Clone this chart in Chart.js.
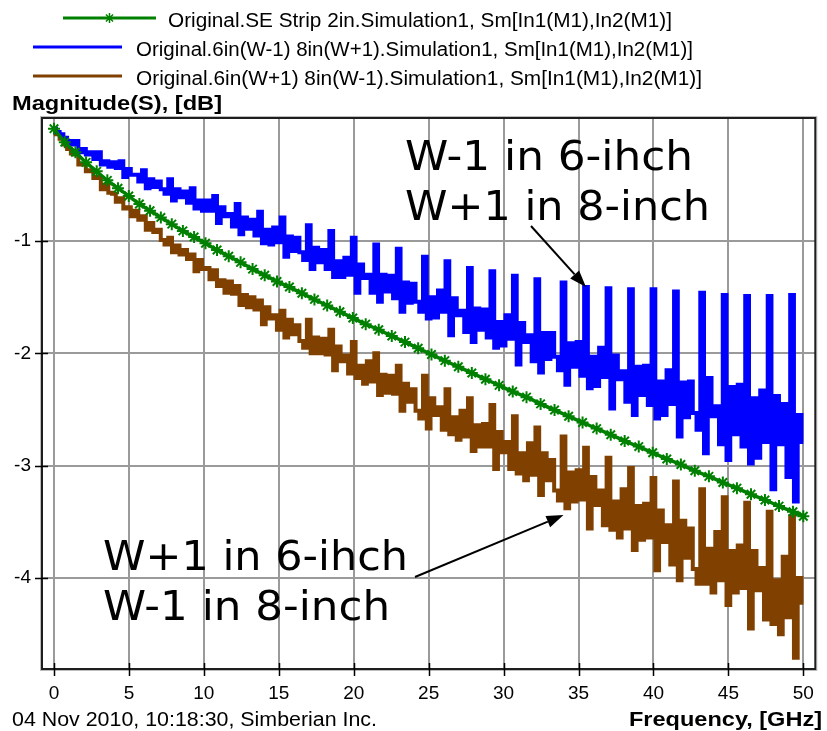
<!DOCTYPE html>
<html>
<head>
<meta charset="utf-8">
<title>Magnitude(S), [dB]</title>
<script src="https://cdn.jsdelivr.net/npm/chart.js@4.4.1/dist/chart.umd.min.js"></script>
<style>
  html, body { margin: 0; padding: 0; background: #ffffff; }
  canvas { display: block; }
</style>
</head>
<body>
<canvas id="chart" width="827" height="731"></canvas>
<script>
// Sweep step of the two coupled-line traces, GHz
const FREQ_STEP = 0.25;

const xTicks = [0, 5, 10, 15, 20, 25, 30, 35, 40, 45, 50];
const yTicks = [-1, -2, -3, -4];

const seriesLabels = [
    'Original.SE Strip 2in.Simulation1, Sm[In1(M1),In2(M1)]',
    'Original.6in(W-1) 8in(W+1).Simulation1, Sm[In1(M1),In2(M1)]',
    'Original.6in(W+1) 8in(W-1).Simulation1, Sm[In1(M1),In2(M1)]'
];
const seriesColors = ['#008000', '#0000ff', '#804000'];

// Single-ended strip, 2 inch (points where the plotter puts its markers)
const stripFreq = [0, 0.72, 1.43, 2.14, 2.85, 3.56, 4.27, 4.99, 5.70, 6.41, 7.13, 7.86, 8.60, 9.35, 10.11,
    10.88, 11.66, 12.45, 13.25, 14.06, 14.88, 15.71, 16.54, 17.38, 18.23, 19.08, 19.94, 20.80, 21.67, 22.54,
    23.42, 24.30, 25.19, 26.08, 26.98, 27.88, 28.79, 29.70, 30.61, 31.53, 32.47, 33.40, 34.34, 35.27, 36.21,
    37.15, 38.08, 39.02, 39.95, 40.89, 41.83, 42.76, 43.70, 44.63, 45.57, 46.51, 47.44, 48.38, 49.31, 50.00];
const stripMag = [0.00, -0.12, -0.21, -0.30, -0.38, -0.46, -0.53, -0.60, -0.67, -0.73, -0.79, -0.85, -0.91, -0.965, -1.02,
    -1.08, -1.135, -1.19, -1.25, -1.305, -1.36, -1.41, -1.465, -1.52, -1.575, -1.63, -1.685, -1.74, -1.79, -1.845,
    -1.90, -1.955, -2.01, -2.065, -2.12, -2.175, -2.23, -2.285, -2.34, -2.39, -2.45, -2.505, -2.56, -2.615, -2.67,
    -2.725, -2.78, -2.83, -2.885, -2.94, -2.99, -3.045, -3.095, -3.15, -3.20, -3.255, -3.305, -3.36, -3.41, -3.45];

// 6in(W-1) + 8in(W+1), one value every FREQ_STEP from 0 GHz
const mismatchAMag = [
    0.00, -0.03, -0.05, -0.08, -0.11, -0.14,
    -0.11, -0.21, -0.18, -0.23, -0.21, -0.27,
    -0.21, -0.32, -0.29, -0.34, -0.30, -0.35,
    -0.29, -0.43, -0.36, -0.41, -0.41, -0.47,
    -0.37, -0.53, -0.45, -0.52, -0.47, -0.54, -0.58,
    -0.45, -0.64, -0.54, -0.61, -0.56, -0.66,
    -0.53, -0.71, -0.64, -0.73, -0.64, -0.73,
    -0.60, -0.84, -0.70, -0.78, -0.76, -0.87,
    -0.67, -0.94, -0.79, -0.89, -0.81, -0.95,
    -0.74, -1.02, -0.90, -1.03, -0.88, -1.01,
    -0.79, -1.14, -0.96, -1.09, -0.97, -1.10, -1.17,
    -0.86, -1.25, -1.06, -1.19, -1.08, -1.25,
    -0.91, -1.32, -1.18, -1.32, -1.15, -1.30,
    -0.97, -1.46, -1.21, -1.33, -1.30, -1.46,
    -1.03, -1.54, -1.30, -1.45, -1.31, -1.51,
    -1.07, -1.63, -1.37, -1.55, -1.38, -1.54, -1.63,
    -1.14, -1.69, -1.50, -1.68, -1.44, -1.63,
    -1.18, -1.84, -1.51, -1.66, -1.62, -1.81,
    -1.24, -1.90, -1.60, -1.79, -1.61, -1.86,
    -1.27, -1.95, -1.72, -1.93, -1.66, -1.87,
    -1.31, -2.10, -1.73, -1.90, -1.84, -2.07,
    -1.34, -2.17, -1.82, -2.05, -1.82, -2.03, -2.15,
    -1.37, -2.28, -1.91, -2.12, -1.90, -2.20,
    -1.41, -2.31, -2.03, -2.29, -1.95, -2.21,
    -1.42, -2.49, -2.02, -2.23, -2.16, -2.43,
    -1.43, -2.55, -2.12, -2.37, -2.11, -2.46,
    -1.43, -2.58, -2.25, -2.55, -2.15, -2.45,
    -1.45, -2.74, -2.26, -2.57, -2.25, -2.53, -2.68,
    -1.46, -2.89, -2.22, -2.56, -2.47, -2.81,
    -1.48, -2.95, -2.30, -2.72, -2.28, -2.83,
    -1.49, -2.98, -2.40, -2.93, -2.33, -2.79,
    -1.49, -3.21, -2.38, -2.81, -2.45, -3.10,
    -1.48, -3.32, -2.55, -2.79
];

// 6in(W+1) + 8in(W-1), same frequency grid
const mismatchBMag = [
    0.00, -0.05, -0.09, -0.14, -0.18, -0.22,
    -0.23, -0.32, -0.32, -0.38, -0.37, -0.44,
    -0.43, -0.54, -0.50, -0.57, -0.58, -0.65,
    -0.62, -0.71, -0.70, -0.78, -0.73, -0.81,
    -0.78, -0.90, -0.84, -0.92, -0.90, -0.99, -1.03,
    -0.97, -1.10, -1.04, -1.12, -1.08, -1.16,
    -1.12, -1.27, -1.17, -1.25, -1.24, -1.34,
    -1.26, -1.40, -1.35, -1.46, -1.36, -1.47,
    -1.40, -1.57, -1.48, -1.59, -1.50, -1.61,
    -1.53, -1.74, -1.59, -1.69, -1.66, -1.79,
    -1.62, -1.86, -1.70, -1.83, -1.75, -1.89, -1.95,
    -1.70, -2.00, -1.86, -2.00, -1.87, -2.01,
    -1.79, -2.15, -1.94, -2.07, -2.02, -2.18,
    -1.90, -2.22, -2.11, -2.27, -2.07, -2.25,
    -2.00, -2.37, -2.19, -2.35, -2.20, -2.36,
    -2.11, -2.51, -2.27, -2.43, -2.32, -2.51, -2.58,
    -2.20, -2.67, -2.40, -2.55, -2.48, -2.68,
    -2.32, -2.72, -2.57, -2.77, -2.51, -2.74,
    -2.40, -2.87, -2.64, -2.83, -2.63, -2.83,
    -2.46, -3.03, -2.70, -2.88, -2.79, -3.03,
    -2.56, -3.07, -2.89, -3.13, -2.80, -3.08,
    -2.66, -3.26, -2.89, -3.13, -2.95, -3.22, -3.31,
    -2.74, -3.38, -3.06, -3.32, -3.04, -3.30,
    -2.84, -3.56, -3.10, -3.35, -3.22, -3.53,
    -2.93, -3.57, -3.32, -3.64, -3.21, -3.56,
    -3.02, -3.75, -3.36, -3.66, -3.34, -3.64,
    -3.11, -3.93, -3.40, -3.68, -3.53, -3.88,
    -3.14, -4.02, -3.49, -3.82, -3.56, -3.92, -4.05,
    -3.21, -4.05, -3.74, -4.13, -3.59, -4.02,
    -3.28, -4.24, -3.76, -4.13, -3.71, -4.09,
    -3.33, -4.45, -3.76, -4.11, -3.91, -4.37,
    -3.41, -4.41, -4.02, -4.50, -3.81, -4.35,
    -3.45, -4.71, -4.00, -4.22
];

// Callout text and the trace spots they point at (GHz, dB)
const noteUpper = ['W-1 in 6-ihch', 'W+1 in 8-inch'];
const noteLower = ['W+1 in 6-ihch', 'W-1 in 8-inch'];
const noteUpperTarget = [35.5, -1.41];
const noteLowerTarget = [34.0, -3.44];

const FONT = "'Liberation Sans', Arial, sans-serif";
const NOTE_FONT = "'DejaVu Sans', Verdana, sans-serif";

function sweep(values) {
    return values.map((v, i) => ({ x: i * FREQ_STEP, y: v }));
}

// draw text stretched to a given width, left aligned on the baseline
function fitText(ctx, text, left, baseline, width) {
    const w = ctx.measureText(text).width;
    ctx.save();
    ctx.translate(left, baseline);
    ctx.scale(width / w, 1);
    ctx.textAlign = 'left';
    ctx.textBaseline = 'alphabetic';
    ctx.fillText(text, 0, 0);
    ctx.restore();
}

function arrow(ctx, x0, y0, x1, y1) {
    const ang = Math.atan2(y1 - y0, x1 - x0);
    const len = 17, half = 6;
    const bx = x1 - Math.cos(ang) * len, by = y1 - Math.sin(ang) * len;
    ctx.beginPath();
    ctx.moveTo(x0, y0);
    ctx.lineTo(bx, by);
    ctx.stroke();
    ctx.beginPath();
    ctx.moveTo(x1, y1);
    ctx.lineTo(bx - Math.sin(ang) * half, by + Math.cos(ang) * half);
    ctx.lineTo(bx + Math.sin(ang) * half, by - Math.cos(ang) * half);
    ctx.closePath();
    ctx.fill();
}

function starMark(ctx, x, y, r) {
    ctx.beginPath();
    for (let k = 0; k < 4; k++) {
        const a = k * Math.PI / 4;
        ctx.moveTo(x - Math.cos(a) * r, y - Math.sin(a) * r);
        ctx.lineTo(x + Math.cos(a) * r, y + Math.sin(a) * r);
    }
    ctx.stroke();
}

// frame, tick marks, legend, axis captions and callouts
const decorations = {
    id: 'decorations',
    afterDraw(chart) {
        const { ctx, chartArea: a, scales: { x, y } } = chart;
        ctx.save();

        // plot frame
        ctx.strokeStyle = '#bdbdbd';
        ctx.lineWidth = 1;
        ctx.strokeRect(a.left - 1.5, a.top - 1.5, a.width + 3, a.height + 3);
        ctx.strokeStyle = '#1e1e1e';
        ctx.lineWidth = 2;
        ctx.strokeRect(a.left, a.top, a.width, a.height);

        // tick marks straddle the frame
        ctx.lineWidth = 1.5;
        ctx.strokeStyle = '#000';
        ctx.beginPath();
        xTicks.forEach(v => {
            const px = Math.round(x.getPixelForValue(v)) + 0.5;
            ctx.moveTo(px, a.bottom - 6);
            ctx.lineTo(px, a.bottom + 7);
        });
        yTicks.forEach(v => {
            const py = Math.round(y.getPixelForValue(v)) + 0.5;
            ctx.moveTo(a.left - 7, py);
            ctx.lineTo(a.left + 6, py);
        });
        ctx.stroke();

        // legend
        const rows = [
            { x0: 63, x1: 156, ly: 18, tx: 168, tw: 504, base: 27 },
            { x0: 33, x1: 122, ly: 47, tx: 136, tw: 557, base: 56 },
            { x0: 33, x1: 122, ly: 76, tx: 136, tw: 566, base: 85 }
        ];
        rows.forEach((r, i) => {
            ctx.strokeStyle = seriesColors[i];
            ctx.lineWidth = 3;
            ctx.beginPath();
            ctx.moveTo(r.x0, r.ly);
            ctx.lineTo(r.x1, r.ly);
            ctx.stroke();
            if (i === 0) {
                ctx.lineWidth = 1.5;
                starMark(ctx, (r.x0 + r.x1) / 2, r.ly, 5);
            }
            ctx.fillStyle = '#000';
            ctx.font = '20px ' + FONT;
            fitText(ctx, seriesLabels[i], r.tx, r.base, r.tw);
        });

        // captions
        ctx.fillStyle = '#000';
        ctx.font = 'bold 21px ' + FONT;
        fitText(ctx, 'Magnitude(S), [dB]', 12, 110, 210);
        fitText(ctx, 'Frequency, [GHz]', 629, 726, 193);
        ctx.font = '20px ' + FONT;
        fitText(ctx, '04 Nov 2010, 10:18:30, Simberian Inc.', 12, 726, 365);

        // callouts
        ctx.font = '40px ' + NOTE_FONT;
        fitText(ctx, noteUpper[0], 405, 170, 288);
        fitText(ctx, noteUpper[1], 405, 220, 305);
        fitText(ctx, noteLower[0], 103, 570, 305);
        fitText(ctx, noteLower[1], 103, 620, 287);

        ctx.strokeStyle = '#000';
        ctx.fillStyle = '#000';
        ctx.lineWidth = 2;
        arrow(ctx, 531, 226,
            x.getPixelForValue(noteUpperTarget[0]), y.getPixelForValue(noteUpperTarget[1]));
        arrow(ctx, 415, 577,
            x.getPixelForValue(noteLowerTarget[0]), y.getPixelForValue(noteLowerTarget[1]));

        ctx.restore();
    }
};

const chart = new Chart(document.getElementById('chart'), {
    type: 'line',
    data: {
        datasets: [{
            label: seriesLabels[0],
            data: stripFreq.map((f, i) => ({ x: f, y: stripMag[i] })),
            borderColor: seriesColors[0],
            backgroundColor: seriesColors[0],
            borderWidth: 3.5,
            pointStyle: 'star',
            pointRadius: 6,
            pointBorderWidth: 2,
            pointBorderColor: seriesColors[0],
            tension: 0.3
        }, {
            label: seriesLabels[1],
            data: sweep(mismatchAMag),
            borderColor: seriesColors[1],
            borderWidth: 4,
            pointRadius: 0,
            stepped: 'middle'
        }, {
            label: seriesLabels[2],
            data: sweep(mismatchBMag),
            borderColor: seriesColors[2],
            borderWidth: 4,
            pointRadius: 0,
            stepped: 'middle'
        }]
    },
    options: {
        responsive: false,
        animation: false,
        devicePixelRatio: 1,
        layout: { padding: { top: 118, right: 7, left: 0, bottom: 0 } },
        plugins: {
            legend: { display: false },
            tooltip: { enabled: false }
        },
        scales: {
            x: {
                type: 'linear',
                min: -0.8,
                max: 50.8,
                afterBuildTicks: s => { s.ticks = xTicks.map(v => ({ value: v })); },
                afterFit: s => { s.height = 62; },
                grid: { color: '#9a9a9a', lineWidth: 2, drawTicks: false },
                border: { display: false },
                ticks: {
                    color: '#000',
                    padding: 13,
                    maxRotation: 0,
                    font: { family: FONT, size: 19 },
                    callback: v => String(v)
                }
            },
            y: {
                type: 'linear',
                min: -4.81,
                max: 0.095,
                afterBuildTicks: s => { s.ticks = yTicks.map(v => ({ value: v })); },
                afterFit: s => { s.width = 42; },
                grid: { color: '#9a9a9a', lineWidth: 2, drawTicks: false },
                border: { display: false },
                ticks: {
                    color: '#000',
                    padding: 11,
                    font: { family: FONT, size: 19 },
                    callback: v => String(v)
                }
            }
        }
    },
    plugins: [decorations]
});
</script>
</body>
</html>
